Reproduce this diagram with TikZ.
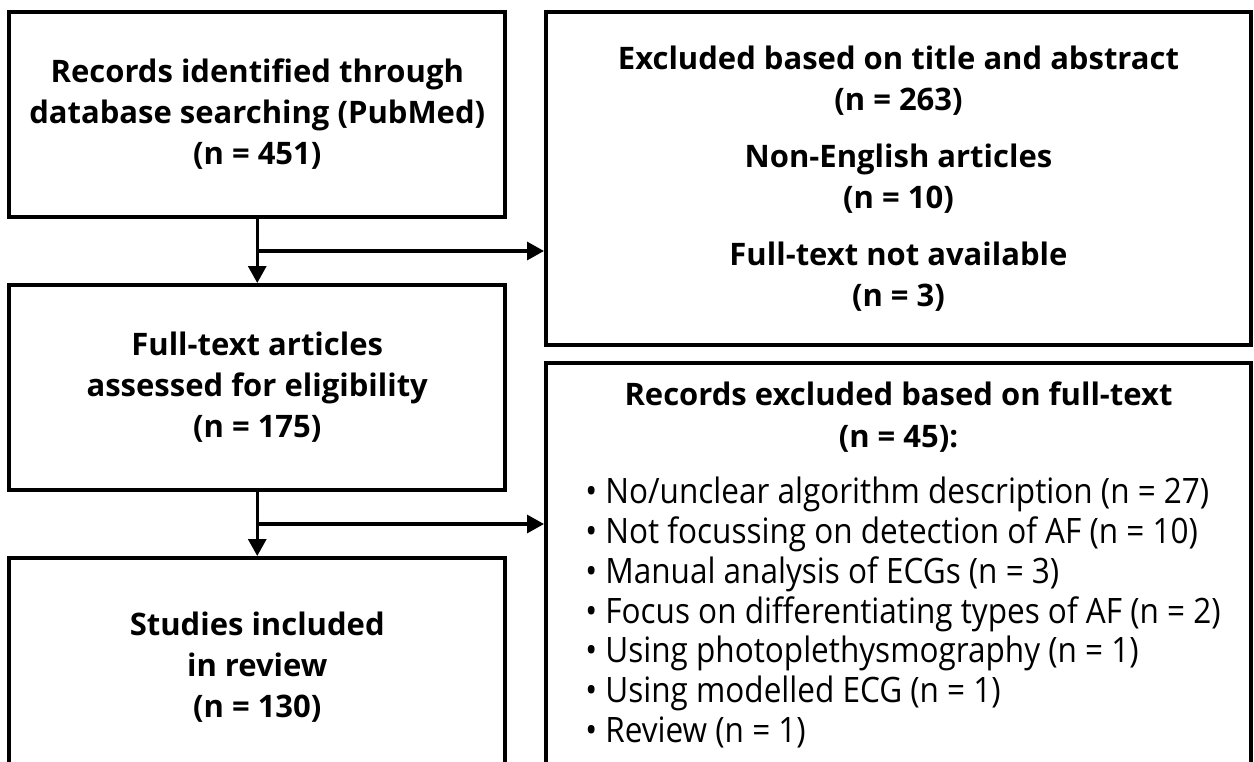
\documentclass[tikz,border=0pt]{standalone}
\usepackage{fontspec}
\setmainfont{Open Sans}
\newfontfamily\listfont[FakeStretch=0.9]{Open Sans}
\usetikzlibrary{arrows.meta}
\usetikzlibrary{calc}
\usetikzlibrary{positioning}

\begin{document}
\begin{tikzpicture}[x=0.5pt, y=-0.5pt,
    box/.style={draw, line width=2pt, rectangle, align=center, inner sep=0pt,
      font=\fontsize{15.5}{20.5}\selectfont\bfseries},
    headtext/.style={align=center, inner sep=0pt, font=\fontsize{15.5}{21}\selectfont\bfseries},
    listtext/.style={align=left, inner sep=0pt, font=\listfont\fontsize{17.5}{19.9}\selectfont},
    arr/.style={line width=1.6pt, -{Triangle[length=8.5pt, width=9pt]}}]
  \useasboundingbox (0,0) rectangle (1254,761);
  \clip (0,0) rectangle (1254,761);

  % left column
  \node[box, minimum width=248pt, minimum height=102.5pt] (records) at (257.25,114.5)
    {Records identified through\\database searching (PubMed)\\(n = 451)};
  \node[box, minimum width=248pt, minimum height=102.5pt] (fulltext) at (257.25,387.5)
    {Full-text articles\\assessed for eligibility\\(n = 175)};
  \node[box, minimum width=248pt, minimum height=109pt] (included) at (257.25,667)
    {Studies included\\in review\\(n = 130)};

  % right column
  \node[box, minimum width=352.5pt, minimum height=166.5pt] (screenout) at (898.5,178.5)
    {Excluded based on title and abstract\\(n = 263)\\[8pt]
     Non-English articles\\(n = 10)\\[8pt]
     Full-text not available\\(n = 3)};
  \node[box, minimum width=352.5pt, minimum height=220pt] (fullout) at (898.5,583) {};
  \node[headtext] (fullouthead) at (898.5,417.5)
    {Records excluded based on full-text\\(n = 45):};
  \node[listtext] (fulloutlist) at (903,612.5)
    {• No/unclear algorithm description (n = 27)\\
     • Not focussing on detection of AF (n = 10)\\
     • Manual analysis of ECGs (n = 3)\\
     • Focus on differentiating types of AF (n = 2)\\
     • Using photoplethysmography (n = 1)\\
     • Using modelled ECG (n = 1)\\
     • Review (n = 1)};

  % connectors
  \coordinate (split1) at ($(records.south)!0.5!(fulltext.north)$);
  \coordinate (split2) at ($(fulltext.south)!0.5!(included.north)$);
  \draw[arr] (records) -- (fulltext);
  \draw[arr] (fulltext) -- (included);
  \draw[arr] (split1) -- (split1 -| screenout.west);
  \draw[arr] (split2) -- (split2 -| fullout.west);
\end{tikzpicture}
\end{document}
